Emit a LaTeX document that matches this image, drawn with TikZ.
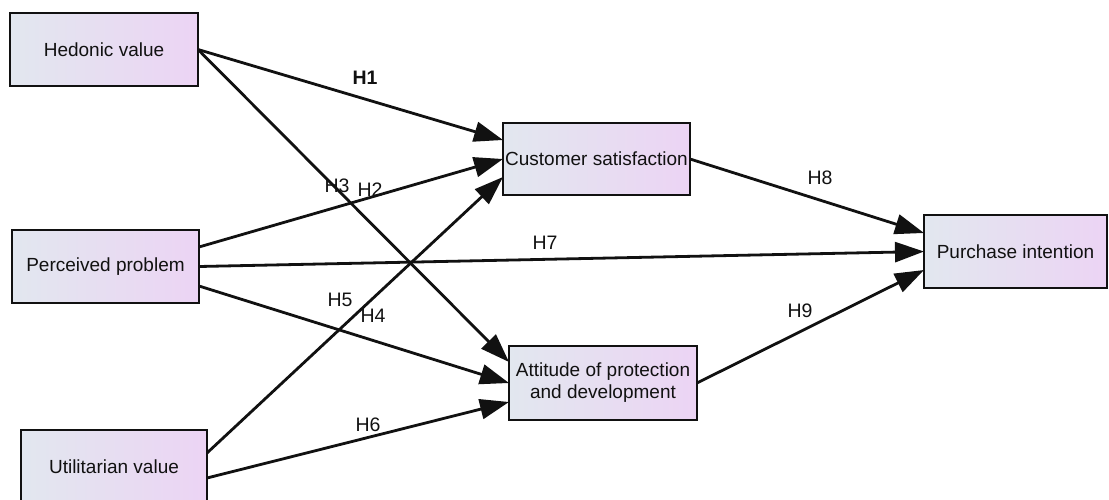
\documentclass[tikz,border=0pt]{standalone}
\usepackage{fontspec}
\setmainfont{Liberation Sans}
\usetikzlibrary{arrows.meta}
\definecolor{boxleft}{HTML}{E2E7EF}
\definecolor{boxright}{HTML}{ECD4F4}
\definecolor{ink}{HTML}{111111}
\begin{document}
\begin{tikzpicture}[x=1pt,y=-1pt,
  construct/.style={rectangle, draw=ink, line width=2.8pt, inner sep=0pt, outer sep=0pt,
    left color=boxleft, right color=boxright, minimum height=73pt, align=center,
    font=\fontsize{19}{22}\selectfont, text=ink},
  path/.style={draw=ink, line width=2.8pt, -{Triangle[length=29pt,width=20pt]}},
  hyp/.style={font=\fontsize{19.5}{22}\selectfont, text=ink}]
\useasboundingbox (0,0) rectangle (1109,499);
\clip (0,0) rectangle (1109,499);

% constructs
\node[construct, minimum width=188pt] (hed) at (104,49.5) {Hedonic value};
\node[construct, minimum width=187pt] (per) at (105.5,266.5) {Perceived problem};
\node[construct, minimum width=186pt] (uti) at (114,466.5) {Utilitarian value};
\node[construct, minimum width=187pt, minimum height=72pt] (cs) at (596.5,159) {Customer satisfaction};
\node[construct, minimum width=188pt, minimum height=74pt] (att) at (603,383) {Attitude of protection\\and development};
\node[construct, minimum width=183pt] (pur) at (1015.5,251.5) {Purchase intention};

% hypothesised paths
\draw[path] (hed.east) -- ([yshift=19pt]cs.west);
\draw[path] ([yshift=19.5pt]per.east) -- (cs.west);
\draw[path] (hed.east) -- ([yshift=21pt]att.west);
\draw[path] ([yshift=13.5pt]uti.east) -- ([yshift=-18pt]cs.west);
\draw[path] ([yshift=-19.5pt]per.east) -- (att.west);
\draw[path] ([yshift=-11.5pt]uti.east) -- ([yshift=-19pt]att.west);
\draw[path] (per.east) -- (pur.west);
\draw[path] (cs.east) -- ([yshift=18.5pt]pur.west);
\draw[path] (att.east) -- ([yshift=-18.5pt]pur.west);

% hypothesis labels
\node[hyp, font=\fontsize{19.5}{22}\selectfont\bfseries] (h1) at (365,78) {H1};
\node[hyp] (h2) at (370,190) {H2};
\node[hyp] (h3) at (337,186) {H3};
\node[hyp] (h4) at (373,316) {H4};
\node[hyp] (h5) at (340,300) {H5};
\node[hyp] (h6) at (368,425) {H6};
\node[hyp] (h7) at (545,243) {H7};
\node[hyp] (h8) at (820,178) {H8};
\node[hyp] (h9) at (800,311) {H9};
\end{tikzpicture}
\end{document}
